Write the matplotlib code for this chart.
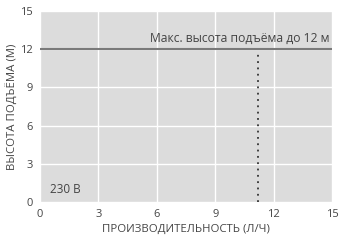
import matplotlib
matplotlib.use("Agg")
import matplotlib.pyplot as plt

plt.rcParams['font.family'] = ['Open Sans', 'DejaVu Sans']

x_ticks = [0, 3, 6, 9, 12, 15]
y_ticks = [0, 3, 6, 9, 12, 15]
max_height = 12
max_flow = 11.2
max_label = "Макс. высота подъёма до 12 м"
voltage_label = "230 В"
xlabel = "ПРОИЗВОДИТЕЛЬНОСТЬ (Л/Ч)"
ylabel = "ВЫСОТА ПОДЪЁМА (М)"

fig = plt.figure(figsize=(3.43, 2.42), dpi=100)
ax = fig.add_axes([40/343, 40/242, 292/343, 191/242])
ax.set_facecolor('#dcdcdc')
ax.set_xlim(0, 15)
ax.set_ylim(0, 15)
ax.set_xticks(x_ticks)
ax.set_yticks(y_ticks)
ax.grid(True, color='white', linewidth=1.0)
ax.set_axisbelow(True)
for s in ax.spines.values():
    s.set_visible(False)
ax.tick_params(length=0, labelsize=8, colors='#444444', pad=5)

ax.axhline(max_height, color='#7a7a7a', linewidth=1.5)
ax.plot([max_flow, max_flow], [0, max_height - 0.3], color='#333333', linestyle=(0, (1, 2.5)), linewidth=1.3)
ax.text(14.85, max_height + 0.35, max_label, ha='right', va='bottom', fontsize=8.7, color='#444444')
ax.text(0.5, 0.5, voltage_label, ha='left', va='bottom', fontsize=8.5, color='#444444')

ax.set_xlabel(xlabel, fontsize=8.2, color='#444444', labelpad=3)
ax.set_ylabel(ylabel, fontsize=8.2, color='#444444', labelpad=2)

fig.savefig("out.png", dpi=100)
